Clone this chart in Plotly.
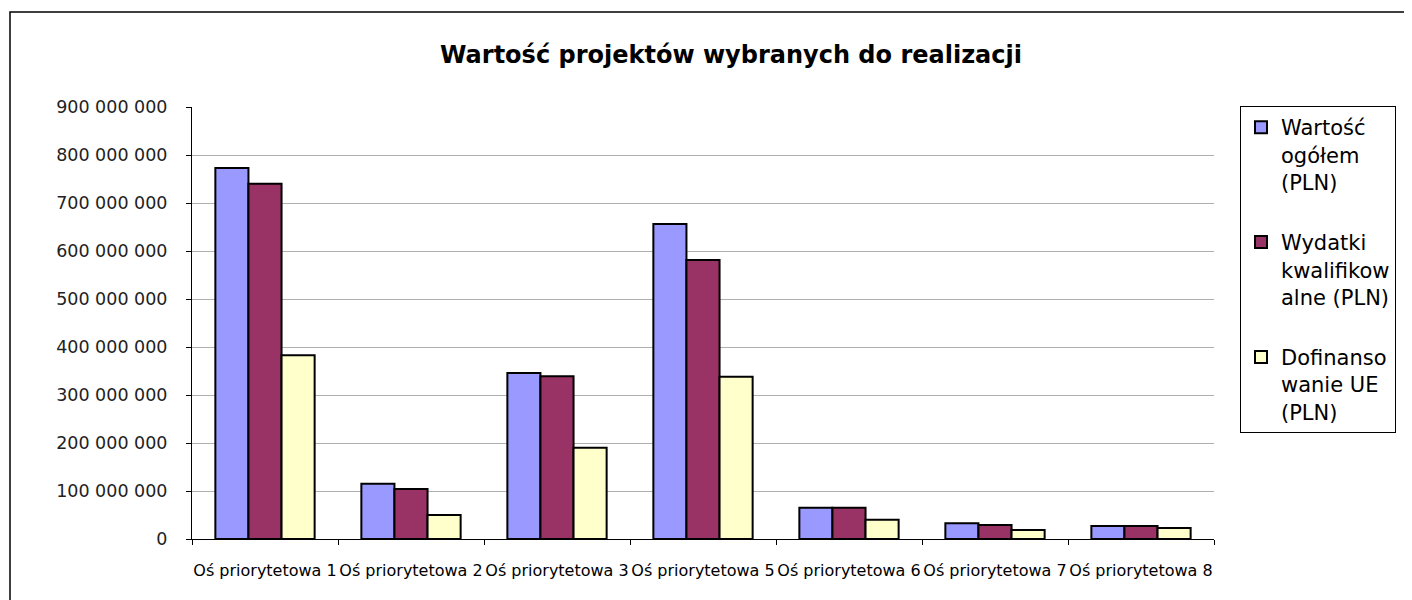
import plotly.graph_objects as go

categories = ["Oś priorytetowa 1", "Oś priorytetowa 2", "Oś priorytetowa 3",
              "Oś priorytetowa 5", "Oś priorytetowa 6", "Oś priorytetowa 7",
              "Oś priorytetowa 8"]
wartosc_ogolem = [773e6, 115e6, 346e6, 656e6, 65e6, 33e6, 27e6]
wydatki_kwalif = [740e6, 104e6, 339e6, 581e6, 65e6, 29e6, 27e6]
dofinansowanie = [383e6, 50e6, 190e6, 338e6, 40e6, 19e6, 23e6]
series_names = ["Wartość<br>ogółem<br>(PLN)", "Wydatki<br>kwalifikow<br>alne (PLN)",
                "Dofinanso<br>wanie UE<br>(PLN)"]
series_colors = ["#9999FF", "#993366", "#FFFFCC"]
yticks = [0, 100e6, 200e6, 300e6, 400e6, 500e6, 600e6, 700e6, 800e6, 900e6]
yticklabels = ["0", "100 000 000", "200 000 000", "300 000 000", "400 000 000",
               "500 000 000", "600 000 000", "700 000 000", "800 000 000", "900 000 000"]

FONT = "DejaVu Sans, Arial, sans-serif"
OFF = 8  # page body margin offset

# plot area in page pixel coordinates
PL, PR, PT, PB = 192, 1214, 107, 539
W, H = 1412 - OFF, 600 - OFF

fig = go.Figure()
for i, (name, vals, col) in enumerate(zip(series_names,
                                          [wartosc_ogolem, wydatki_kwalif, dofinansowanie],
                                          series_colors)):
    fig.add_trace(go.Bar(x=categories, y=vals, name=name, legendgroup=str(i),
                         marker=dict(color=col, line=dict(color="black", width=2))))

pw, ph = PR - PL, PB - PT

fig.update_layout(
    width=W, height=H,
    margin=dict(l=PL - OFF, r=W - (PR - OFF), t=PT - OFF, b=H - (PB - OFF),
                autoexpand=False),
    paper_bgcolor="white", plot_bgcolor="white",
    barmode="group", bargap=0.32, bargroupgap=0,
    font=dict(family=FONT, color="black"),
    title=dict(text="<b>Wartość projektów wybranych do realizacji</b>",
               x=(731 - OFF) / W, xref="container", xanchor="center",
               y=1 - (55 - OFF) / H, yanchor="middle",
               font=dict(size=24, family=FONT, color="black")),
    legend=dict(x=(1240 - PL) / pw, xanchor="left", y=(PB - 106) / ph, yanchor="top",
                bordercolor="black", borderwidth=1, bgcolor="white",
                font=dict(size=21, family=FONT, color="black"),
                tracegroupgap=30, itemsizing="constant", valign="top",
                maxheight=500),
    xaxis=dict(showline=True, linecolor="black", linewidth=1,
               ticks="outside", tickson="boundaries", ticklen=5, tickcolor="black",
               tickfont=dict(size=16, family=FONT, color="black"),
               tickangle=0, automargin=False,
               ticklabelstandoff=17,
               showgrid=False),
    yaxis=dict(range=[0, 900e6], tickvals=yticks, ticktext=yticklabels,
               showline=True, linecolor="black", linewidth=1,
               ticks="outside", ticklen=5, tickcolor="black",
               tickfont=dict(size=17.5, family=FONT, color="#222"),
               ticklabelstandoff=15, automargin=False,
               showgrid=True, gridcolor="#b0b0b0", gridwidth=1, zeroline=False),
)

# outer chart border (extends beyond right/bottom edge as in reference)
fig.add_shape(type="rect", xref="paper", yref="paper",
              x0=(10 - PL) / pw, x1=(1430 - PL) / pw,
              y0=(PB - 620) / ph, y1=(PB - 12) / ph,
              line=dict(color="black", width=1.5), layer="below")

fig.write_html("out.html")
